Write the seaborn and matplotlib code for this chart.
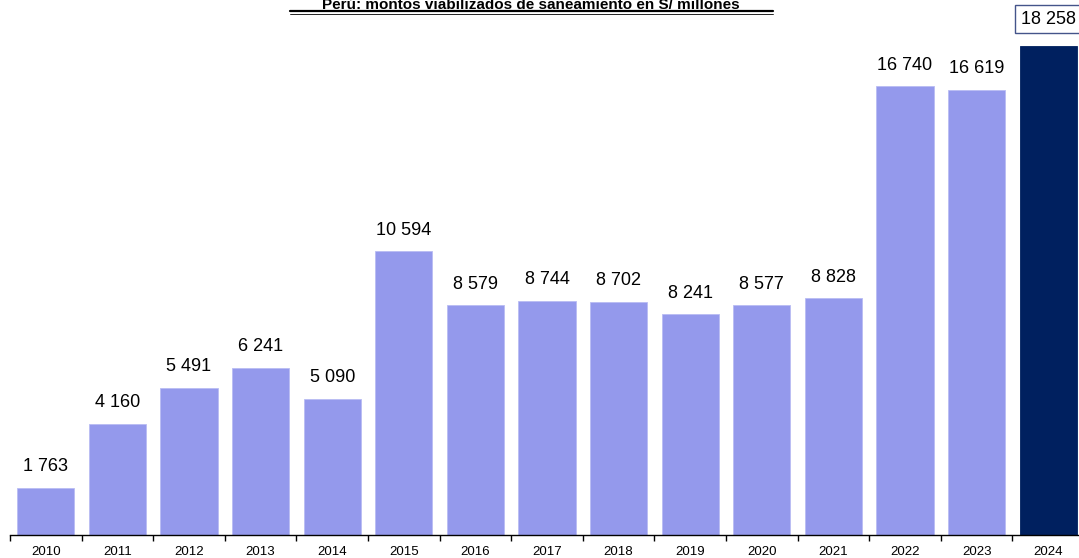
import matplotlib
matplotlib.use("Agg")
import matplotlib.pyplot as plt
import numpy as np
import pandas as pd
import seaborn as sns

years = ["2010", "2011", "2012", "2013", "2014", "2015", "2016", "2017",
         "2018", "2019", "2020", "2021", "2022", "2023", "2024"]
montos = [1763, 4160, 5491, 6241, 5090, 10594, 8579, 8744,
          8702, 8241, 8577, 8828, 16740, 16619, 18258]
titulo = "Perú: montos viabilizados de saneamiento en S/ millones"

df = pd.DataFrame({"anio": years, "monto": montos})
colores = ["#9499EC"] * (len(years) - 1) + ["#00205F"]

sns.set_theme(style="white")
plt.rcParams["font.family"] = ["Liberation Sans", "DejaVu Sans"]
plt.rcParams["text.color"] = "black"
plt.rcParams["xtick.color"] = "black"
plt.rcParams["xtick.labelcolor"] = "black"

fig = plt.figure(figsize=(10.79, 5.58), dpi=100)
ax = fig.add_axes([10 / 1079, 23 / 558, 1074 / 1079, 536 / 558])

sns.barplot(data=df, x="anio", y="monto", hue="anio", palette=colores,
            legend=False, width=0.8, edgecolor="#B9BCF3", linewidth=0.6,
            saturation=1, ax=ax)
ax.patches[-1].set_edgecolor("#00205F")

ax.set_ylim(0, 20000)
ax.set_xlim(-0.5, len(years) - 0.5)
ax.set_yticks([])
ax.set_xlabel("")
ax.set_ylabel("")
for s in ["top", "right", "left"]:
    ax.spines[s].set_visible(False)
ax.spines["bottom"].set_color("black")
ax.spines["bottom"].set_linewidth(1)

# ticks between categories
ax.set_xticks(np.arange(len(years)))
ax.set_xticklabels(years, fontsize=9.5, color="black")
ax.set_xticks(np.arange(-0.5, len(years) - 0.4, 1), minor=True)
ax.tick_params(axis="x", which="major", bottom=False, length=0, pad=8)
ax.tick_params(axis="x", which="minor", bottom=True, length=4, width=1,
               color="black", direction="out")

def fmt(v):
    return f"{v:,}".replace(",", " ")

for i, v in enumerate(montos):
    if i == len(montos) - 1:
        ax.annotate(fmt(v), (i, v), xytext=(0, 13), textcoords="offset points",
                    ha="center", va="bottom", fontsize=13, color="black",
                    bbox=dict(boxstyle="square,pad=0.3", fc="white",
                              ec="#44548A", lw=1), annotation_clip=False)
    else:
        ax.annotate(fmt(v), (i, v), xytext=(0, 9), textcoords="offset points",
                    ha="center", va="bottom", fontsize=13, color="black")

fig.text(531 / 1079, 1 - 9 / 558, titulo, ha="center", va="baseline",
         fontsize=11, fontweight="bold", color="black")
# underline of the title
fig.add_artist(plt.Line2D([290 / 1079, 773 / 1079], [1 - 11 / 558] * 2,
                          color="black", lw=1.6, transform=fig.transFigure))
fig.add_artist(plt.Line2D([290 / 1079, 773 / 1079], [1 - 13.5 / 558] * 2,
                          color="black", lw=0.6, transform=fig.transFigure))

fig.savefig("out.png", dpi=100)
